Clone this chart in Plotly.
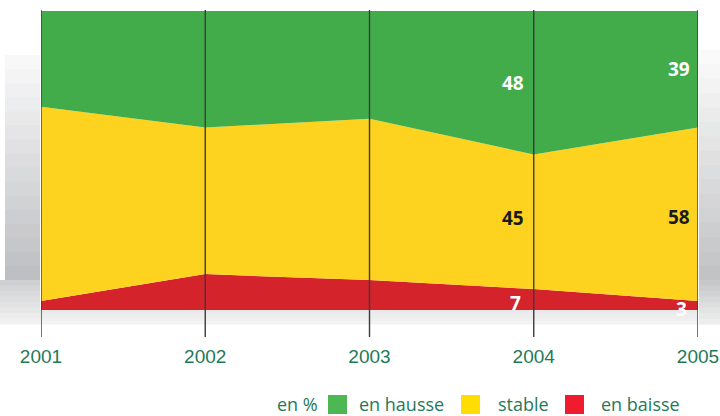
import plotly.graph_objects as go

# ---- data ----
years = [2001, 2002, 2003, 2004, 2005]
series_names = ["en baisse", "stable", "en hausse"]
en_baisse = [3, 12, 10, 7, 3]
stable = [65, 49, 54, 45, 58]
en_hausse = [32, 39, 36, 48, 39]
labelled_years = [2004, 2005]

fill_colors = {"en baisse": "#d4232b", "stable": "#fdd31f", "en hausse": "#43ac4a"}
legend_colors = {"en hausse": "#4db853", "stable": "#ffdd00", "en baisse": "#ee1c2e"}
text_green = "#1f7a58"

W, H = 720, 416
L, R, T, B = 41, 698, 11, 310  # plot area in pixels
PW, PH = R - L, B - T


def px(x):
    return (x - L) / PW


def py(y):
    return (B - y) / PH


fig = go.Figure()
values = {"en baisse": en_baisse, "stable": stable, "en hausse": en_hausse}
for name in series_names:
    fig.add_trace(go.Scatter(
        x=years, y=values[name], name=name, mode="lines",
        stackgroup="one", line=dict(width=0, color=fill_colors[name]),
        fillcolor=fill_colors[name], hoverinfo="x+y+name", showlegend=False,
    ))

shapes = []


def lerp(c1, c2, t):
    return "rgb(%d,%d,%d)" % tuple(round(a + (b - a) * t) for a, b in zip(c1, c2))


def gradient(x0, x1, y0, y1, c_top, c_bot, n=16):
    for i in range(n):
        ya = y0 + (y1 - y0) * i / n
        yb = y0 + (y1 - y0) * (i + 1) / n + 0.6
        shapes.append(dict(type="rect", xref="paper", yref="paper",
                           x0=px(x0), x1=px(x1), y0=py(ya), y1=py(yb),
                           fillcolor=lerp(c_top, c_bot, (i + 0.5) / n),
                           line=dict(width=0), layer="below"))


# decorative grey side panels
gradient(5, 40, 55, 280, (250, 250, 251), (188, 189, 192))
gradient(0, 40, 280, 324, (205, 206, 208), (243, 243, 243), n=8)
gradient(40, 698, 310, 324, (232, 232, 233), (244, 244, 244), n=5)
gradient(699, 720, 50, 280, (252, 252, 252), (192, 193, 195))
gradient(699, 720, 280, 324, (196, 197, 199), (240, 240, 240), n=8)

# vertical year lines
for yr in years:
    shapes.append(dict(type="line", xref="x", yref="paper", x0=yr, x1=yr,
                       y0=py(337), y1=py(10), line=dict(color="#3c3c3c", width=1.4),
                       layer="above"))

annotations = []
# value labels: (value, y in data units, colour, xshift, yshift)
for yr in labelled_years:
    i = years.index(yr)
    b, s, h = en_baisse[i], stable[i], en_hausse[i]
    xs = -8 if yr == 2004 else -6
    ys_mid = 4 if yr == 2004 else -3
    items = [
        (b, b / 2 - 1.0, "white", xs - 3, 0),
        (s, b + s / 2, "#1a1a1a", xs, ys_mid),
        (h, b + s + h / 2, "white", xs, 0),
    ]
    for v, yv, col, sh, ysh in items:
        annotations.append(dict(x=yr, y=yv, xref="x", yref="y", text="<b>%d</b>" % v,
                                showarrow=False, xanchor="right", yanchor="middle",
                                xshift=sh, yshift=ysh,
                                font=dict(family="Open Sans", size=19, color=col)))

# legend
leg_font = dict(family="Open Sans", size=18, color=text_green)
annotations.append(dict(x=px(275), y=py(403.5), xref="paper", yref="paper", text="en %",
                        showarrow=False, xanchor="left", yanchor="middle", font=leg_font))
legend_items = [("en hausse", 328, 357), ("stable", 461, 496), ("en baisse", 565, 599)]
for name, sq_x, tx in legend_items:
    shapes.append(dict(type="rect", xref="paper", yref="paper",
                       x0=px(sq_x), x1=px(sq_x + 19), y0=py(395), y1=py(414),
                       fillcolor=legend_colors[name], line=dict(width=0)))
    annotations.append(dict(x=px(tx), y=py(403.5), xref="paper", yref="paper", text=name,
                            showarrow=False, xanchor="left", yanchor="middle", font=leg_font))

fig.update_layout(
    width=W, height=H, autosize=False,
    margin=dict(l=L, r=W - R, t=T, b=H - B, pad=0, autoexpand=False),
    paper_bgcolor="white", plot_bgcolor="rgba(0,0,0,0)",
    shapes=shapes, annotations=annotations, showlegend=False,
    xaxis=dict(range=[2001, 2005], tickvals=years, ticktext=[str(y) for y in years],
               showgrid=False, zeroline=False, showline=False, automargin=False,
               ticks="outside", ticklen=29, tickcolor="rgba(0,0,0,0)",
               tickfont=dict(family="Liberation Sans", size=19, color=text_green)),
    yaxis=dict(range=[0, 100], visible=False, fixedrange=True, automargin=False),
)

fig.write_html("out.html", config={"displayModeBar": False},
               post_script="document.body.style.margin='0px';document.body.style.overflow='hidden';")
